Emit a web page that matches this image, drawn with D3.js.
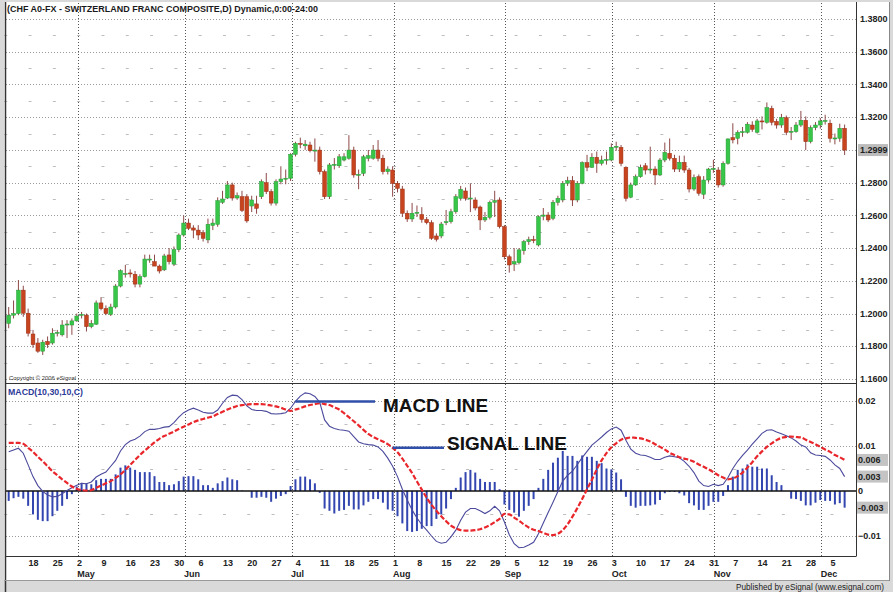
<!DOCTYPE html>
<html>
<head>
<meta charset="utf-8">
<script src="https://cdn.jsdelivr.net/npm/d3@7"></script>
<style>
  html, body { margin: 0; padding: 0; background: #d6d6d6; }
  svg { display: block; font-family: "Liberation Sans", Arial, sans-serif; }
</style>
</head>
<body>
<svg id="chart" width="893" height="592"></svg>
<script>
// daily CHF bars, Apr 11 - Dec 7 (weekdays only)
var firstDay = '2005-04-11', lastDay = '2005-12-07';

var opens = [
  1.194, 1.199, 1.200, 1.2143, 1.2002, 1.1875, 1.182, 1.177, 1.183, 1.182,
  1.188, 1.187, 1.1932, 1.193, 1.1955, 1.199, 1.199, 1.192, 1.1935, 1.2065,
  1.203, 1.1995, 1.204, 1.2168, 1.224, 1.2248, 1.224, 1.218, 1.2225, 1.2328,
  1.2317, 1.229, 1.2267, 1.2358, 1.2302, 1.239, 1.248, 1.2553, 1.2523, 1.251,
  1.2494, 1.245, 1.2538, 1.2545, 1.268, 1.2706, 1.2786, 1.2706, 1.2714, 1.2714,
  1.2657, 1.267, 1.2714, 1.280, 1.2745, 1.2675, 1.2806, 1.2822, 1.2827, 1.2973,
  1.304, 1.3025, 1.303, 1.2995, 1.2999, 1.2867, 1.2714, 1.2908, 1.2903, 1.2938,
  1.2949, 1.2999, 1.2847, 1.2857, 1.2949, 1.2949, 1.2999, 1.2949, 1.2867, 1.2877,
  1.2796, 1.2761, 1.2613, 1.2578, 1.2613, 1.2605, 1.2575, 1.2555, 1.2474, 1.2474,
  1.2555, 1.2561, 1.2622, 1.2704, 1.2749, 1.2704, 1.2694, 1.2651, 1.2572, 1.2588,
  1.268, 1.2694, 1.2531, 1.2347, 1.2303, 1.2311, 1.2384, 1.2439, 1.2452, 1.2419,
  1.2595, 1.2602, 1.2582, 1.268, 1.2694, 1.2796, 1.2812, 1.2694, 1.2796, 1.2922,
  1.2894, 1.2955, 1.2918, 1.2938, 1.2938, 1.3016, 1.3016, 1.2894, 1.2711, 1.2786,
  1.2836, 1.2903, 1.2877, 1.2883, 1.2847, 1.2938, 1.2979, 1.2949, 1.2883, 1.2924,
  1.2877, 1.2761, 1.2836, 1.2729, 1.2816, 1.2883, 1.2877, 1.2786, 1.2918, 1.3075,
  1.3071, 1.3108, 1.3108, 1.3152, 1.3108, 1.3177, 1.3169, 1.3254, 1.3174, 1.3152,
  1.3197, 1.3110, 1.3112, 1.3152, 1.3181, 1.305, 1.3136, 1.3152, 1.3177, 1.3163,
  1.3071, 1.3071, 1.3132
];
var highs = [
  1.204, 1.208, 1.2205, 1.217, 1.203, 1.190, 1.185, 1.184, 1.186, 1.191,
  1.190, 1.196, 1.196, 1.197, 1.200, 1.201, 1.200, 1.196, 1.208, 1.210,
  1.205, 1.206, 1.218, 1.227, 1.2297, 1.227, 1.226, 1.224, 1.236, 1.236,
  1.236, 1.230, 1.2365, 1.240, 1.241, 1.249, 1.260, 1.258, 1.254, 1.254,
  1.251, 1.258, 1.258, 1.271, 1.275, 1.281, 1.280, 1.274, 1.275, 1.273,
  1.272, 1.272, 1.282, 1.2859, 1.276, 1.282, 1.290, 1.288, 1.298, 1.305,
  1.3075, 1.306, 1.305, 1.307, 1.302, 1.288, 1.292, 1.295, 1.2975, 1.298,
  1.309, 1.302, 1.288, 1.297, 1.300, 1.303, 1.306, 1.297, 1.290, 1.290,
  1.281, 1.278, 1.263, 1.2676, 1.266, 1.265, 1.259, 1.257, 1.249, 1.256,
  1.2633, 1.264, 1.273, 1.278, 1.277, 1.2796, 1.271, 1.266, 1.262, 1.269,
  1.275, 1.271, 1.254, 1.236, 1.240, 1.240, 1.245, 1.247, 1.2475, 1.260,
  1.2645, 1.262, 1.2694, 1.272, 1.281, 1.2836, 1.284, 1.281, 1.293, 1.297,
  1.298, 1.299, 1.2965, 1.299, 1.304, 1.305, 1.303, 1.290, 1.280, 1.285,
  1.291, 1.292, 1.302, 1.290, 1.295, 1.3045, 1.307, 1.297, 1.2965, 1.2965,
  1.289, 1.285, 1.285, 1.284, 1.289, 1.294, 1.2895, 1.293, 1.307, 1.3163,
  1.312, 1.314, 1.317, 1.3175, 1.319, 1.3205, 1.329, 1.327, 1.319, 1.322,
  1.321, 1.314, 1.317, 1.3238, 1.3205, 1.315, 1.317, 1.3195, 1.3215, 1.3185,
  1.310, 1.316, 1.3155
];
var lows = [
  1.191, 1.197, 1.199, 1.198, 1.186, 1.179, 1.176, 1.1747, 1.179, 1.181,
  1.186, 1.186, 1.185, 1.187, 1.195, 1.197, 1.189, 1.191, 1.193, 1.202,
  1.199, 1.1985, 1.203, 1.216, 1.222, 1.222, 1.216, 1.216, 1.222, 1.231,
  1.229, 1.2245, 1.226, 1.230, 1.229, 1.2375, 1.247, 1.251, 1.246, 1.245,
  1.244, 1.243, 1.251, 1.253, 1.267, 1.270, 1.269, 1.2695, 1.262, 1.2555,
  1.262, 1.261, 1.270, 1.273, 1.266, 1.266, 1.279, 1.279, 1.281, 1.296,
  1.301, 1.300, 1.2985, 1.2928, 1.285, 1.270, 1.270, 1.288, 1.289, 1.293,
  1.294, 1.283, 1.276, 1.284, 1.293, 1.294, 1.293, 1.285, 1.285, 1.2714,
  1.274, 1.259, 1.256, 1.256, 1.259, 1.2555, 1.2545, 1.245, 1.244, 1.246,
  1.254, 1.255, 1.261, 1.269, 1.269, 1.262, 1.263, 1.251, 1.256, 1.2575,
  1.259, 1.252, 1.233, 1.225, 1.226, 1.230, 1.236, 1.242, 1.243, 1.241,
  1.257, 1.256, 1.257, 1.266, 1.268, 1.278, 1.2657, 1.268, 1.279, 1.287,
  1.289, 1.286, 1.2905, 1.291, 1.293, 1.2995, 1.290, 1.2685, 1.2705, 1.278,
  1.283, 1.285, 1.2855, 1.2786, 1.284, 1.2925, 1.2935, 1.2865, 1.2865, 1.286,
  1.274, 1.275, 1.272, 1.270, 1.280, 1.286, 1.277, 1.2775, 1.291, 1.304,
  1.3034, 1.308, 1.310, 1.311, 1.310, 1.3125, 1.316, 1.315, 1.313, 1.3135,
  1.309, 1.306, 1.3105, 1.314, 1.2999, 1.304, 1.312, 1.313, 1.3155, 1.3045,
  1.3034, 1.305, 1.2969
];
var closes = [
  1.199, 1.200, 1.2143, 1.2002, 1.188, 1.181, 1.177, 1.1825, 1.181, 1.188,
  1.1885, 1.193, 1.1936, 1.1955, 1.1985, 1.1995, 1.192, 1.194, 1.2065, 1.203,
  1.200, 1.204, 1.2168, 1.2262, 1.2245, 1.2242, 1.218, 1.2225, 1.2333, 1.2333,
  1.229, 1.226, 1.2352, 1.2317, 1.239, 1.248, 1.2553, 1.2521, 1.251, 1.248,
  1.246, 1.2545, 1.2553, 1.269, 1.270, 1.2786, 1.2706, 1.272, 1.263, 1.2566,
  1.2694, 1.2643, 1.2806, 1.2745, 1.2675, 1.2806, 1.2822, 1.2827, 1.2973, 1.304,
  1.3035, 1.3035, 1.2995, 1.2999, 1.2867, 1.2714, 1.2908, 1.2912, 1.2958, 1.2958,
  1.2999, 1.2847, 1.2851, 1.2958, 1.2965, 1.2999, 1.2949, 1.2867, 1.2883, 1.2796,
  1.2765, 1.2613, 1.2578, 1.2613, 1.2619, 1.2575, 1.2555, 1.246, 1.2454, 1.2547,
  1.2561, 1.2622, 1.2714, 1.2759, 1.2704, 1.2706, 1.2645, 1.2572, 1.2588, 1.268,
  1.269, 1.2531, 1.2347, 1.2297, 1.2317, 1.2389, 1.2439, 1.2452, 1.2448, 1.2592,
  1.2602, 1.2572, 1.268, 1.2704, 1.2796, 1.2812, 1.2694, 1.2796, 1.2922, 1.2894,
  1.2955, 1.2918, 1.2938, 1.2942, 1.3016, 1.3022, 1.2918, 1.2704, 1.2786, 1.2836,
  1.2894, 1.2877, 1.2883, 1.2847, 1.2938, 1.2985, 1.2949, 1.2883, 1.2924, 1.2877,
  1.2761, 1.283, 1.2735, 1.2816, 1.2883, 1.2886, 1.2786, 1.2918, 1.3067, 1.3061,
  1.3108, 1.3112, 1.3157, 1.3126, 1.3177, 1.3175, 1.3258, 1.3169, 1.3152, 1.3197,
  1.3108, 1.3114, 1.3152, 1.3181, 1.305, 1.3136, 1.3152, 1.3177, 1.318, 1.3071,
  1.3073, 1.3132, 1.2999
];

// MACD(10,30,10,C) panel
var macdLine = [
  0.0087, 0.0091, 0.0095, 0.0084, 0.0058, 0.0032, 0.0012, -0.0001, -0.0009, -0.0013,
  -0.0012, -0.0006, 0.0001, 0.0007, 0.0013, 0.0017, 0.0016, 0.0020, 0.0031, 0.0037,
  0.0042, 0.0055, 0.0068, 0.0089, 0.0103, 0.0111, 0.0115, 0.0122, 0.0132, 0.0137,
  0.0137, 0.0139, 0.0142, 0.0143, 0.0152, 0.0164, 0.0174, 0.0180, 0.0184, 0.0180,
  0.0175, 0.0173, 0.0173, 0.0180, 0.0195, 0.0208, 0.0213, 0.0212, 0.0203, 0.0189,
  0.0181, 0.0179, 0.0179, 0.0177, 0.0172, 0.0171, 0.0172, 0.0174, 0.0184, 0.0199,
  0.0211, 0.0218, 0.0216, 0.0210, 0.0197, 0.0158, 0.0144, 0.0139, 0.0136, 0.0135,
  0.0133, 0.0121, 0.0109, 0.0105, 0.0103, 0.0102, 0.0098, 0.0088, 0.0073, 0.0055,
  0.0032, 0.0004, -0.0020, -0.0042, -0.0060, -0.0075, -0.0087, -0.0100, -0.0112, -0.0116,
  -0.0114, -0.0102, -0.0087, -0.0065, -0.0047, -0.0039, -0.0039, -0.0044, -0.0050, -0.0044,
  -0.0034, -0.0044, -0.0069, -0.0097, -0.0117, -0.0126, -0.0125, -0.0120, -0.0114, -0.0095,
  -0.0071, -0.0048, -0.0025, -0.0001, 0.0022, 0.0035, 0.0044, 0.0059, 0.0074, 0.0088,
  0.0102, 0.0111, 0.0120, 0.0130, 0.0138, 0.0142, 0.0135, 0.0113, 0.0093, 0.0084,
  0.0080, 0.0079, 0.0075, 0.0070, 0.0070, 0.0075, 0.0078, 0.0076, 0.0074, 0.0066,
  0.0055, 0.0041, 0.0022, 0.0012, 0.0010, 0.0015, 0.0012, 0.0015, 0.0030, 0.0050,
  0.0066, 0.0079, 0.0091, 0.0104, 0.0116, 0.0128, 0.0135, 0.0136, 0.0131, 0.0127,
  0.0123, 0.0118, 0.0111, 0.0102, 0.0098, 0.0085, 0.0080, 0.0079, 0.0077, 0.0069,
  0.0058, 0.0050, 0.0032
];
var signalLine = [
  0.0107, 0.0107, 0.0107, 0.0105, 0.0096, 0.0087, 0.0076, 0.0066, 0.0055, 0.0044,
  0.0035, 0.0026, 0.0018, 0.0010, 0.0005, 0.0002, 0.0001, 0.0002, 0.0007, 0.0012,
  0.0017, 0.0022, 0.0029, 0.0037, 0.0047, 0.0058, 0.0069, 0.0080, 0.0090, 0.0099,
  0.0108, 0.0116, 0.0122, 0.0127, 0.0132, 0.0138, 0.0143, 0.0148, 0.0153, 0.0157,
  0.0160, 0.0163, 0.0166, 0.0171, 0.0176, 0.0181, 0.0185, 0.0189, 0.0191, 0.0192,
  0.0193, 0.0193, 0.0193, 0.0192, 0.0190, 0.0188, 0.0185, 0.0181, 0.0178, 0.0181,
  0.0184, 0.0188, 0.0191, 0.0193, 0.0195, 0.0193, 0.0191, 0.0186, 0.0181, 0.0173,
  0.0164, 0.0155, 0.0146, 0.0136, 0.0127, 0.0120, 0.0115, 0.0110, 0.0104, 0.0096,
  0.0086, 0.0072, 0.0056, 0.0040, 0.0021, 0.0003, -0.0015, -0.0031, -0.0044, -0.0056,
  -0.0067, -0.0077, -0.0083, -0.0087, -0.0088, -0.0088, -0.0087, -0.0085, -0.0081, -0.0076,
  -0.0069, -0.0062, -0.0051, -0.0052, -0.0059, -0.0066, -0.0074, -0.0081, -0.0086, -0.0089,
  -0.0093, -0.0097, -0.0098, -0.0095, -0.0087, -0.0074, -0.0057, -0.0038, -0.0018, 0.0004,
  0.0025, 0.0048, 0.0068, 0.0084, 0.0097, 0.0106, 0.0114, 0.0117, 0.0119, 0.0118,
  0.0117, 0.0114, 0.0110, 0.0104, 0.0098, 0.0092, 0.0085, 0.0080, 0.0075, 0.0072,
  0.0069, 0.0065, 0.0059, 0.0054, 0.0048, 0.0042, 0.0035, 0.0030, 0.0026, 0.0028,
  0.0033, 0.0041, 0.0052, 0.0064, 0.0077, 0.0088, 0.0098, 0.0106, 0.0113, 0.0118,
  0.0120, 0.0121, 0.0120, 0.0119, 0.0114, 0.0109, 0.0104, 0.0098, 0.0092, 0.0087,
  0.0080, 0.0075, 0.0069
];
var histogram = [
  -0.0022, -0.0016, -0.0013, -0.0017, -0.0033, -0.0052, -0.0064, -0.0067, -0.0067, -0.0056,
  -0.0044, -0.0033, -0.0018, -0.0007, 0.0010, 0.0018, 0.0017, 0.0015, 0.0024, 0.0027,
  0.0027, 0.0027, 0.0037, 0.0052, 0.0057, 0.0052, 0.0047, 0.0042, 0.0042, 0.0042,
  0.0033, 0.0020, 0.0020, 0.0013, 0.0015, 0.0022, 0.0032, 0.0033, 0.0033, 0.0026,
  0.0013, 0.0013, 0.0007, 0.0017, 0.0022, 0.0030, 0.0026, 0.0024, 0.0001, 0.0000,
  -0.0015, -0.0015, -0.0013, -0.0015, -0.0024, -0.0017, -0.0011, -0.0007, 0.0011, 0.0026,
  0.0032, 0.0032, 0.0026, 0.0017, -0.0004, -0.0039, -0.0044, -0.0050, -0.0044, -0.0042,
  -0.0033, -0.0041, -0.0041, -0.0032, -0.0024, -0.0018, -0.0018, -0.0026, -0.0041, -0.0044,
  -0.0056, -0.0072, -0.0089, -0.0091, -0.0089, -0.0084, -0.0078, -0.0078, -0.0062, -0.0052,
  -0.0039, -0.0018, 0.0007, 0.0030, 0.0042, 0.0047, 0.0041, 0.0027, 0.0020, 0.0020,
  0.0020, 0.0004, -0.0030, -0.0042, -0.0048, -0.0057, -0.0044, -0.0033, -0.0018, 0.0007,
  0.0027, 0.0047, 0.0063, 0.0074, 0.0089, 0.0078, 0.0078, 0.0067, 0.0079, 0.0076,
  0.0076, 0.0067, 0.0062, 0.0050, 0.0048, 0.0041, 0.0026, -0.0013, -0.0033, -0.0037,
  -0.0033, -0.0033, -0.0032, -0.0030, -0.0020, -0.0005, -0.0002, -0.0002, -0.0005, -0.0010,
  -0.0027, -0.0032, -0.0042, -0.0042, -0.0033, -0.0024, -0.0024, -0.0011, 0.0013, 0.0032,
  0.0047, 0.0050, 0.0059, 0.0054, 0.0054, 0.0050, 0.0050, 0.0035, 0.0020, 0.0013,
  0.0000, -0.0017, -0.0018, -0.0022, -0.0032, -0.0032, -0.0026, -0.0020, -0.0022, -0.0022,
  -0.0030, -0.0027, -0.0037
];

var priceTicks = [1.16, 1.18, 1.20, 1.22, 1.24, 1.26, 1.28, 1.30, 1.32, 1.34, 1.36, 1.38];
var macdTicks = [0.02, 0.01, 0, -0.01];
var macdGrid = [0.02, 0.01, -0.01];
var macdMinor = [0.015, 0.005, -0.005];
// last-value flags on the MACD scale: macd line, signal, histogram
var macdFlagText = ['0.003', '0.006', '-0.003'];

var svg = d3.select('#chart');
var left = 6, right = 856, priceBottom = 383.5, macdBottom = 556.5;

var parseDay = d3.timeParse('%Y-%m-%d');
var days = d3.timeDay.range(parseDay(firstDay), d3.timeDay.offset(parseDay(lastDay), 1))
  .filter(function (d) { return d.getDay() !== 0 && d.getDay() !== 6; });

var x = d3.scaleBand().domain(days).range([6.27, 847.05]);
var bw = x.bandwidth();
function cx(i) { return x(days[i]) + bw / 2; }

var y = d3.scaleLinear().domain([1.16, 1.38]).range([379, 19]);
var ym = d3.scaleLinear().domain([-0.01, 0.02]).range([536, 401]);

var mondays = days.filter(function (d) { return d.getDay() === 1; });
var monthStarts = d3.timeMonth.range(d3.timeMonth.ceil(days[0]), days[days.length - 1])
  .map(function (m) { return days.find(function (d) { return d >= m; }); });

// frame
svg.append('rect').attr('width', 893).attr('height', 592).attr('fill', '#d9d9d9');
svg.append('rect').attr('x', 4).attr('y', 2).attr('width', 885).attr('height', 578).attr('fill', '#fff');

var grid = svg.append('g');

// price grid: dotted at every 0.02, short marks at the odd hundredths
grid.selectAll('.pmajor').data(priceTicks).enter().append('line')
  .attr('x1', left).attr('x2', right)
  .attr('y1', function (d) { return Math.round(y(d)) + 0.5; })
  .attr('y2', function (d) { return Math.round(y(d)) + 0.5; })
  .attr('stroke', '#9a9a9a').attr('stroke-dasharray', '1,2');

var priceMinor = priceTicks.slice(1).map(function (d) { return d - 0.01; });
priceMinor.forEach(function (v) {
  grid.selectAll(null).data(mondays).enter().append('line')
    .attr('x1', function (d) { return x(d) - 2; })
    .attr('x2', function (d) { return x(d) + 1; })
    .attr('y1', Math.round(y(v)) + 0.5).attr('y2', Math.round(y(v)) + 0.5)
    .attr('stroke', '#bdbdbd');
});

grid.selectAll('.mmajor').data(macdGrid).enter().append('line')
  .attr('x1', left).attr('x2', right)
  .attr('y1', function (d) { return Math.round(ym(d)) + 0.5; })
  .attr('y2', function (d) { return Math.round(ym(d)) + 0.5; })
  .attr('stroke', '#9a9a9a').attr('stroke-dasharray', '1,2');

macdMinor.forEach(function (v) {
  grid.selectAll(null).data(mondays).enter().append('line')
    .attr('x1', function (d) { return x(d) - 2; })
    .attr('x2', function (d) { return x(d) + 1; })
    .attr('y1', Math.round(ym(v)) + 0.5).attr('y2', Math.round(ym(v)) + 0.5)
    .attr('stroke', '#bdbdbd');
});

// month separators
grid.selectAll('.month').data(monthStarts).enter().append('line')
  .attr('x1', function (d) { return Math.round(x(d) - 1.5) + 0.5; })
  .attr('x2', function (d) { return Math.round(x(d) - 1.5) + 0.5; })
  .attr('y1', 3).attr('y2', macdBottom)
  .attr('stroke', '#555').attr('stroke-dasharray', '1,2');

// candles
var candles = svg.append('g').selectAll('g').data(days).enter().append('g');

candles.append('line')
  .attr('x1', function (d, i) { return cx(i); })
  .attr('x2', function (d, i) { return cx(i); })
  .attr('y1', function (d, i) { return y(highs[i]); })
  .attr('y2', function (d, i) { return y(lows[i]); })
  .attr('stroke', '#8e4848').attr('stroke-width', 1);

candles.append('rect')
  .attr('x', function (d, i) { return cx(i) - 1.9; })
  .attr('width', 3.8)
  .attr('y', function (d, i) { return y(Math.max(opens[i], closes[i])); })
  .attr('height', function (d, i) { return Math.max(1, Math.abs(y(opens[i]) - y(closes[i]))); })
  .attr('fill', function (d, i) { return closes[i] >= opens[i] ? '#38c648' : '#c8441f'; })
  .attr('stroke', function (d, i) { return closes[i] >= opens[i] ? '#249a35' : '#9a3016'; })
  .attr('stroke-width', 0.5);

// histogram
svg.append('g').selectAll('rect').data(histogram).enter().append('rect')
  .attr('x', function (d, i) { return cx(i) - 1; })
  .attr('width', 2)
  .attr('y', function (d) { return Math.min(ym(0), ym(d)); })
  .attr('height', function (d) { return Math.abs(ym(d) - ym(0)); })
  .attr('fill', '#3346b0');

svg.append('line')
  .attr('x1', left).attr('x2', right)
  .attr('y1', ym(0)).attr('y2', ym(0))
  .attr('stroke', '#111').attr('stroke-width', 1.5);

var macdPath = d3.line()
  .x(function (d, i) { return cx(i); })
  .y(function (d) { return ym(d); });

svg.append('path')
  .attr('d', macdPath(macdLine))
  .attr('fill', 'none')
  .attr('stroke', '#4b4a9c').attr('stroke-width', 1.1);

svg.append('path')
  .attr('d', macdPath.curve(d3.curveMonotoneX)(signalLine))
  .attr('fill', 'none')
  .attr('stroke', '#e8262b').attr('stroke-width', 2.2)
  .attr('stroke-dasharray', '5,2');

// callouts
var callouts = svg.append('g');
callouts.append('line')
  .attr('x1', cx(59)).attr('x2', 375)
  .attr('y1', ym(macdLine[59])).attr('y2', ym(macdLine[59]))
  .attr('stroke', '#2f4fa8').attr('stroke-width', 2.5);
callouts.append('text')
  .attr('x', 383).attr('y', 412)
  .attr('textLength', 105).attr('lengthAdjust', 'spacingAndGlyphs')
  .style('font', 'bold 19px "Liberation Sans", Arial, sans-serif')
  .attr('fill', '#111').text('MACD LINE');
callouts.append('line')
  .attr('x1', cx(79)).attr('x2', 444)
  .attr('y1', ym(signalLine[79])).attr('y2', ym(signalLine[79]))
  .attr('stroke', '#2f4fa8').attr('stroke-width', 2.5);
callouts.append('text')
  .attr('x', 447).attr('y', 450)
  .attr('textLength', 120).attr('lengthAdjust', 'spacingAndGlyphs')
  .style('font', 'bold 19px "Liberation Sans", Arial, sans-serif')
  .attr('fill', '#111').text('SIGNAL LINE');

// panel borders
var borders = svg.append('g').attr('stroke', '#333').attr('stroke-width', 1);
borders.append('line').attr('x1', 5.5).attr('x2', 5.5).attr('y1', 2).attr('y2', 592).attr('stroke-width', 1.5);
borders.append('line').attr('x1', right + 0.5).attr('x2', right + 0.5).attr('y1', 2).attr('y2', macdBottom);
borders.append('line').attr('x1', left).attr('x2', right).attr('y1', priceBottom).attr('y2', priceBottom);
borders.append('line').attr('x1', left).attr('x2', right).attr('y1', macdBottom).attr('y2', macdBottom);
borders.append('line').attr('x1', 4).attr('x2', 889).attr('y1', 580.5).attr('y2', 580.5).attr('stroke', '#999');
borders.append('line').attr('x1', 889.5).attr('x2', 889.5).attr('y1', 2).attr('y2', 581).attr('stroke', '#888');

// right price axis; the last-close flag replaces the tick it covers
var lastClose = closes[closes.length - 1];
var priceAxis = svg.append('g').style('font', 'bold 9px "Liberation Sans", Arial, sans-serif');
priceAxis.append('rect')
  .attr('x', 858).attr('y', y(lastClose) - 6)
  .attr('width', 30).attr('height', 12).attr('fill', '#bcbcbc');
priceAxis.selectAll('.pl')
  .data(priceTicks.filter(function (d) { return Math.abs(y(d) - y(lastClose)) > 9; }))
  .enter().append('text')
  .attr('x', 860).attr('y', function (d) { return y(d); }).attr('dy', '0.35em')
  .attr('fill', '#222').text(function (d) { return d3.format('.4f')(d); });
priceAxis.append('text')
  .attr('x', 860).attr('y', y(lastClose)).attr('dy', '0.35em')
  .attr('fill', '#222').text(d3.format('.4f')(lastClose));

// right macd axis
var macdAxis = svg.append('g').style('font', 'bold 9px "Liberation Sans", Arial, sans-serif');
macdAxis.selectAll('.ml').data(macdTicks).enter().append('text')
  .attr('x', 858).attr('y', function (d) { return ym(d); }).attr('dy', '0.35em')
  .attr('fill', '#222').text(function (d) { return d === 0 ? '0' : d3.format('.2f')(d); });

var flagValues = [macdLine[macdLine.length - 1], signalLine[signalLine.length - 1], histogram[histogram.length - 1]];
flagValues.forEach(function (v, k) {
  macdAxis.append('rect')
    .attr('x', 857).attr('y', ym(v) - 6).attr('width', 31).attr('height', 12)
    .attr('fill', '#c4c4c4');
  macdAxis.append('text')
    .attr('x', 858).attr('y', ym(v)).attr('dy', '0.35em')
    .attr('fill', '#222').text(macdFlagText[k]);
});

// bottom date axis
var xAxis = svg.append('g')
  .attr('transform', 'translate(0,' + macdBottom + ')')
  .call(d3.axisBottom(x)
    .tickValues(mondays.slice(1))
    .tickFormat(d3.timeFormat('%-d'))
    .tickSize(0));
xAxis.select('.domain').remove();
xAxis.selectAll('text')
  .attr('x', -4.5).attr('y', 3.4).style('text-anchor', 'start')
  .style('font', 'bold 9px "Liberation Sans", Arial, sans-serif')
  .attr('fill', '#222');

svg.append('g').selectAll('text').data(monthStarts).enter().append('text')
  .attr('x', function (d) { return x(d) - 2; })
  .attr('y', 577)
  .style('font', 'bold 9px "Liberation Sans", Arial, sans-serif')
  .attr('fill', '#222')
  .text(d3.timeFormat('%b'));

// labels
svg.append('text')
  .attr('x', 7).attr('y', 12)
  .attr('textLength', 311).attr('lengthAdjust', 'spacingAndGlyphs')
  .style('font', 'bold 9.5px "Liberation Sans", Arial, sans-serif')
  .attr('fill', '#1a1a1a')
  .text('(CHF A0-FX - SWITZERLAND FRANC COMPOSITE,D) Dynamic,0:00-24:00');

svg.append('text')
  .attr('x', 9).attr('y', 380)
  .attr('textLength', 67).attr('lengthAdjust', 'spacingAndGlyphs')
  .style('font', '5.5px "Liberation Sans", Arial, sans-serif')
  .attr('fill', '#333')
  .text('Copyright \u00a9 2006 eSignal');

svg.append('text')
  .attr('x', 8).attr('y', 395)
  .attr('textLength', 75).attr('lengthAdjust', 'spacingAndGlyphs')
  .style('font', 'bold 9.5px "Liberation Sans", Arial, sans-serif')
  .attr('fill', '#2b3a98')
  .text('MACD(10,30,10,C)');

svg.append('text')
  .attr('x', 884).attr('y', 589.5)
  .style('text-anchor', 'end')
  .attr('textLength', 148).attr('lengthAdjust', 'spacingAndGlyphs')
  .style('font', '8.5px "Liberation Sans", Arial, sans-serif')
  .attr('fill', '#222')
  .text('Published by eSignal (www.esignal.com)');
</script>
</body>
</html>
